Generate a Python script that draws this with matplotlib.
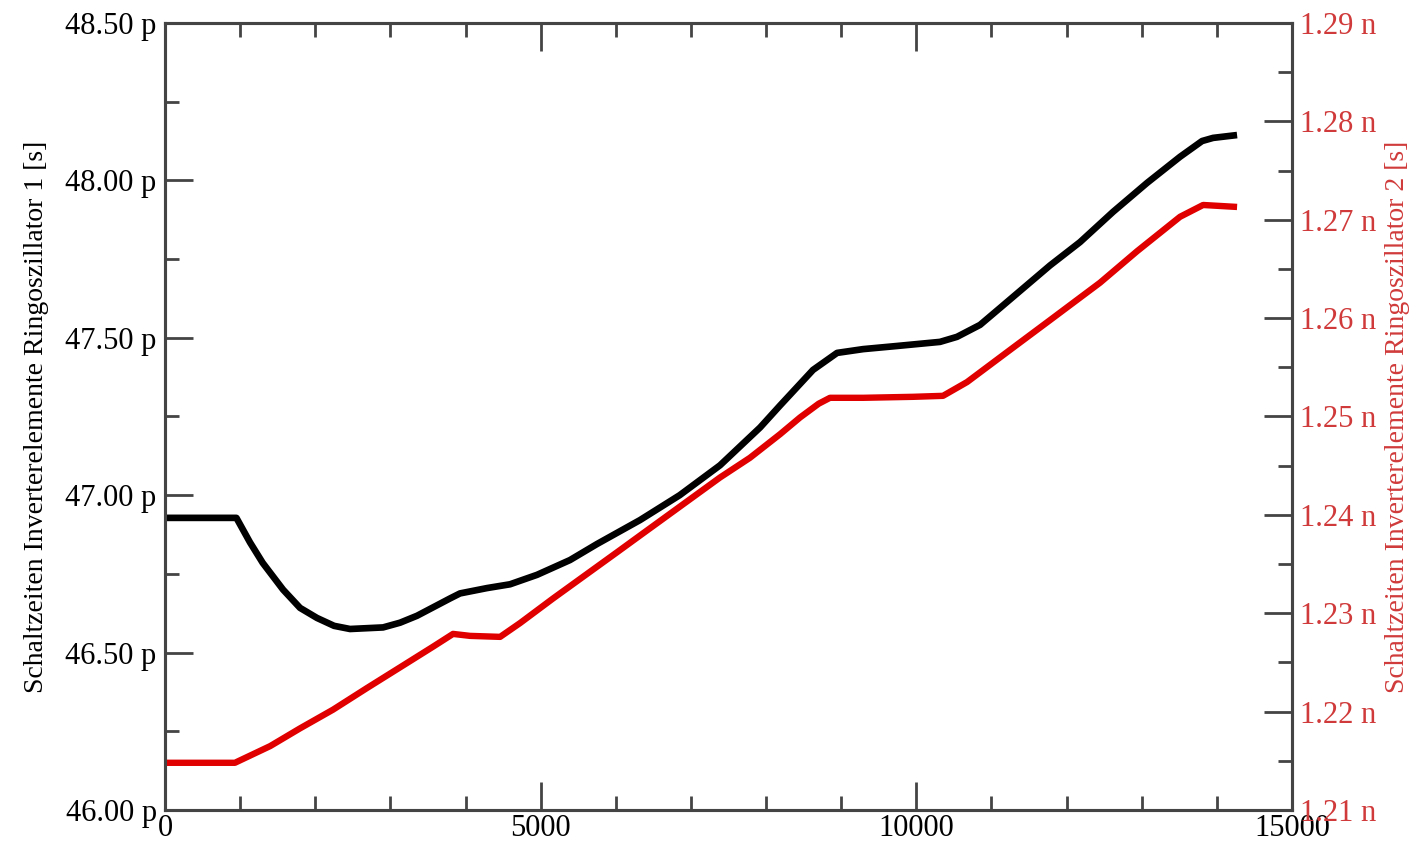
import matplotlib
matplotlib.use("Agg")
import matplotlib.pyplot as plt
from matplotlib.ticker import MultipleLocator, FuncFormatter

# Switching times of the inverter elements, ring oscillator 1 (left axis, ps)
# and ring oscillator 2 (right axis, ns), over the measurement index.
x_osc1 = [0, 500, 950, 1131, 1300, 1571, 1797, 2023, 2250, 2462, 2902, 3128,
          3354, 3793, 3926, 4286, 4592, 4951, 5390, 5750, 6322, 6850, 7387,
          7920, 8186, 8625, 8945, 9291, 9743, 10315, 10541, 10848, 11115,
          11780, 12179, 12618, 13071, 13510, 13803, 13950, 14269]
t_osc1_ps = [46.928, 46.928, 46.928, 46.85, 46.785, 46.70, 46.642, 46.61,
             46.585, 46.575, 46.58, 46.595, 46.617, 46.672, 46.688, 46.705,
             46.717, 46.747, 46.794, 46.845, 46.921, 47.0, 47.095, 47.215,
             47.285, 47.398, 47.452, 47.464, 47.474, 47.487, 47.503, 47.541,
             47.595, 47.73, 47.804, 47.900, 47.992, 48.075, 48.125, 48.135,
             48.144]

x_osc2 = [0, 500, 930, 1400, 1797, 2236, 2688, 3128, 3567, 3833, 4060, 4460,
          4725, 5164, 5617, 6016, 6322, 7387, 7785, 8186, 8452, 8700, 8851,
          9291, 9956, 10355, 10675, 11288, 11780, 12445, 12938, 13510, 13817,
          14269]
t_osc2_ns = [1.2148, 1.2148, 1.2148, 1.2165, 1.2183, 1.2202, 1.2224, 1.2245,
             1.2266, 1.2279, 1.2277, 1.2276, 1.2290, 1.2315, 1.2340, 1.2362,
             1.2379, 1.2438, 1.2458, 1.2482, 1.2499, 1.2513, 1.2519, 1.2519,
             1.2520, 1.2521, 1.2535, 1.2570, 1.2598, 1.2636, 1.2668, 1.2703,
             1.2715, 1.2713]

left_label = "Schaltzeiten Inverterelemente Ringoszillator 1 [s]"
right_label = "Schaltzeiten Inverterelemente Ringoszillator 2 [s]"

plt.rcParams['font.family'] = ['Liberation Serif', 'DejaVu Serif']
red_text = '#d03a3a'
red_line = '#e00000'
spine_col = '#444444'

fig = plt.figure(figsize=(14.24, 8.48), dpi=100)
ax = fig.add_axes([0.1159, 0.0448, 0.7914, 0.9281])
ax2 = ax.twinx()

ax.plot(x_osc1, t_osc1_ps, color='black', lw=4.8, solid_capstyle='butt',
        solid_joinstyle='round')
ax2.plot(x_osc2, t_osc2_ns, color=red_line, lw=4.6, solid_capstyle='butt',
         solid_joinstyle='round')

ax.set_xlim(0, 15000)
ax.set_ylim(46.0, 48.5)
ax2.set_ylim(1.21, 1.29)

ax.xaxis.set_major_locator(MultipleLocator(5000))
ax.xaxis.set_minor_locator(MultipleLocator(1000))
ax.yaxis.set_major_locator(MultipleLocator(0.5))
ax.yaxis.set_minor_locator(MultipleLocator(0.25))
ax2.yaxis.set_major_locator(MultipleLocator(0.01))
ax2.yaxis.set_minor_locator(MultipleLocator(0.005))

ax.yaxis.set_major_formatter(FuncFormatter(lambda v, p: f"{v:.2f} p"))
ax2.yaxis.set_major_formatter(FuncFormatter(lambda v, p: f"{v:.2f} n"))
ax.xaxis.set_major_formatter(FuncFormatter(lambda v, p: f"{v:.0f}"))

ax.tick_params(axis='x', which='both', direction='in', top=True, bottom=True,
               labelsize=22, pad=3, color=spine_col)
ax.tick_params(axis='x', which='major', length=20, width=2)
ax.tick_params(axis='x', which='minor', length=10, width=2)
ax.tick_params(axis='y', which='both', direction='in', left=True, right=False,
               labelsize=22, pad=6, color=spine_col)
ax.tick_params(axis='y', which='major', length=20, width=2)
ax.tick_params(axis='y', which='minor', length=10, width=2)
ax2.tick_params(axis='y', which='both', direction='in', right=True, left=False,
                labelsize=22, pad=6, color=spine_col, labelcolor=red_text)
ax2.tick_params(axis='y', which='major', length=20, width=2)
ax2.tick_params(axis='y', which='minor', length=10, width=2)

for a in (ax, ax2):
    for s in a.spines.values():
        s.set_color(spine_col)
        s.set_linewidth(2.2)

ax.set_ylabel(left_label, fontsize=20, labelpad=12)
ax2.set_ylabel(right_label, fontsize=20, color=red_text, labelpad=6)

fig.savefig("out.png", dpi=100)
